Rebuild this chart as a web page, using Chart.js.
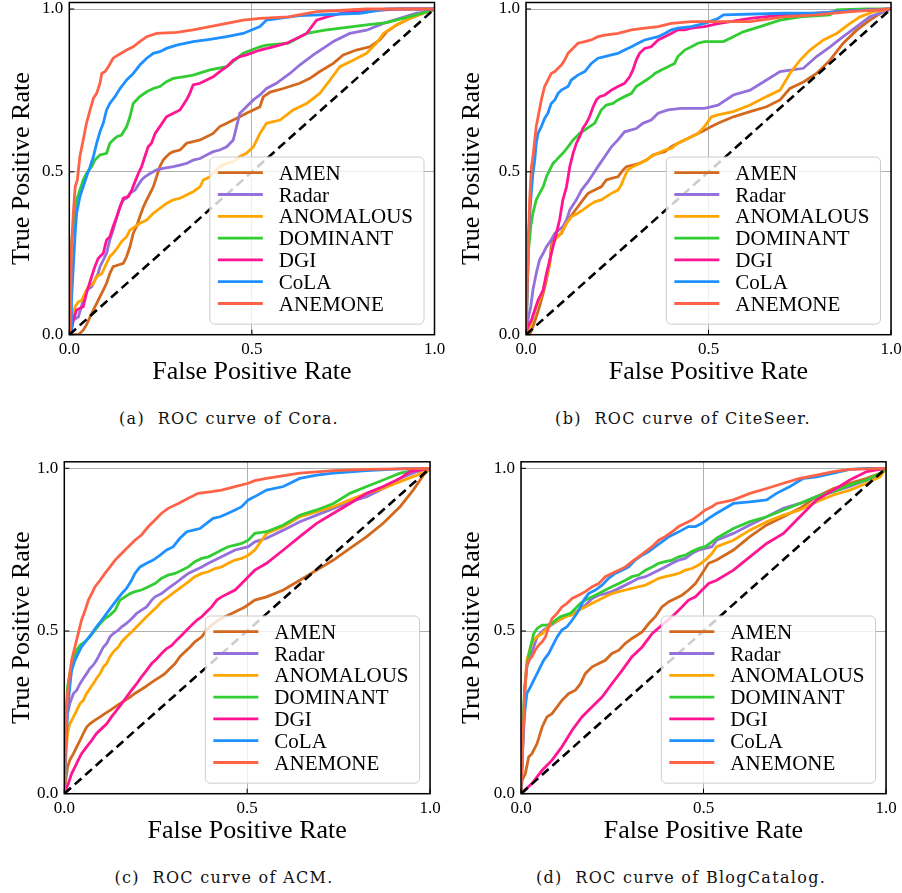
<!DOCTYPE html>
<html>
<head>
<meta charset="utf-8">
<script src="https://cdn.jsdelivr.net/npm/chart.js@4.4.0/dist/chart.umd.min.js"></script>
<style>
  body { margin: 0; background: #fff; }
  #page { position: relative; width: 902px; height: 893px; overflow: hidden; background: #fff; }
  .panel { position: absolute; }
  .caption { position: absolute; font-family: "DejaVu Serif", serif; font-size: 16px; letter-spacing: 1.3px;
             line-height: 19px; white-space: pre; transform: translateX(-50%); color: #111; }
</style>
</head>
<body>
<div id="page">
  <div class="panel" id="boxA" style="left:0;top:0;width:450px;height:388px"><canvas id="rocA"></canvas></div>
  <div class="panel" id="boxB" style="left:450px;top:0;width:452px;height:388px"><canvas id="rocB"></canvas></div>
  <div class="panel" id="boxC" style="left:0;top:459px;width:450px;height:388px"><canvas id="rocC"></canvas></div>
  <div class="panel" id="boxD" style="left:450px;top:459px;width:452px;height:388px"><canvas id="rocD"></canvas></div>
  <div class="caption" style="left:229px;top:409px">(a)  ROC curve of Cora.</div>
  <div class="caption" style="left:683px;top:409px">(b)  ROC curve of CiteSeer.</div>
  <div class="caption" style="left:224px;top:868px">(c)  ROC curve of ACM.</div>
  <div class="caption" style="left:681px;top:868px">(d)  ROC curve of BlogCatalog.</div>
</div>
<script>
// methods in legend order
const methods = ['AMEN', 'Radar', 'ANOMALOUS', 'DOMINANT', 'DGI', 'CoLA', 'ANEMONE'];
const methodColors = ['#D2691E', '#9370DB', '#FFA500', '#32CD32', '#FF1493', '#1E90FF', '#FF6347'];
const tickValues = [0, 0.5, 1.0];
const diagonal = [[0, 0], [1, 1]];

// (a) Cora  -- [FPR, TPR]
const coraAMEN = [[0,0],[0.025,0],[0.038,0.014],[0.047,0.03],[0.057,0.055],[0.066,0.076],[0.075,0.096],[0.084,0.117],[0.093,0.137],[0.102,0.158],[0.111,0.188],[0.12,0.209],[0.134,0.214],[0.148,0.219],[0.157,0.24],[0.166,0.27],[0.175,0.311],[0.184,0.332],[0.193,0.362],[0.203,0.393],[0.212,0.414],[0.221,0.434],[0.23,0.454],[0.239,0.485],[0.248,0.516],[0.257,0.536],[0.266,0.547],[0.276,0.557],[0.285,0.562],[0.303,0.567],[0.312,0.577],[0.321,0.588],[0.339,0.593],[0.358,0.598],[0.376,0.608],[0.394,0.618],[0.412,0.639],[0.431,0.649],[0.449,0.659],[0.467,0.669],[0.485,0.68],[0.504,0.69],[0.522,0.7],[0.531,0.73],[0.55,0.745],[0.586,0.756],[0.631,0.772],[0.659,0.787],[0.686,0.808],[0.723,0.833],[0.75,0.859],[0.786,0.874],[0.823,0.884],[0.85,0.905],[0.869,0.93],[0.896,0.951],[0.932,0.971],[0.969,0.987],[1,1]];
const coraRadar = [[0,0],[0.011,0.045],[0.025,0.055],[0.038,0.106],[0.047,0.137],[0.061,0.147],[0.07,0.168],[0.079,0.188],[0.084,0.209],[0.093,0.229],[0.102,0.25],[0.111,0.291],[0.12,0.321],[0.13,0.362],[0.139,0.393],[0.148,0.414],[0.157,0.419],[0.166,0.434],[0.18,0.444],[0.189,0.46],[0.198,0.475],[0.207,0.485],[0.221,0.495],[0.239,0.506],[0.257,0.511],[0.285,0.516],[0.303,0.521],[0.321,0.526],[0.339,0.536],[0.358,0.541],[0.376,0.552],[0.394,0.562],[0.412,0.567],[0.431,0.577],[0.449,0.598],[0.458,0.639],[0.467,0.68],[0.485,0.7],[0.504,0.721],[0.522,0.736],[0.54,0.756],[0.567,0.772],[0.604,0.802],[0.631,0.828],[0.668,0.859],[0.695,0.879],[0.723,0.9],[0.768,0.925],[0.814,0.935],[0.86,0.956],[0.905,0.971],[0.951,0.987],[0.987,0.992],[1,1]];
const coraANOMALOUS = [[0,0],[0.005,0.025],[0.011,0.066],[0.016,0.086],[0.025,0.101],[0.034,0.106],[0.043,0.127],[0.052,0.147],[0.066,0.158],[0.075,0.178],[0.089,0.188],[0.102,0.219],[0.111,0.24],[0.12,0.25],[0.134,0.27],[0.143,0.286],[0.157,0.301],[0.166,0.321],[0.18,0.332],[0.193,0.342],[0.212,0.352],[0.23,0.373],[0.248,0.388],[0.266,0.403],[0.285,0.414],[0.303,0.419],[0.321,0.429],[0.339,0.439],[0.358,0.454],[0.367,0.475],[0.385,0.485],[0.412,0.516],[0.431,0.526],[0.449,0.531],[0.467,0.547],[0.485,0.557],[0.504,0.577],[0.522,0.618],[0.54,0.649],[0.577,0.659],[0.613,0.69],[0.65,0.71],[0.686,0.741],[0.714,0.782],[0.741,0.823],[0.777,0.843],[0.814,0.864],[0.841,0.895],[0.86,0.925],[0.896,0.951],[0.932,0.971],[0.969,0.987],[1,1]];
const coraDOMINANT = [[0,0],[0.005,0.27],[0.009,0.311],[0.016,0.373],[0.02,0.414],[0.029,0.444],[0.038,0.475],[0.047,0.495],[0.061,0.516],[0.07,0.536],[0.084,0.552],[0.102,0.557],[0.111,0.588],[0.12,0.598],[0.13,0.608],[0.143,0.613],[0.157,0.639],[0.166,0.669],[0.175,0.71],[0.193,0.731],[0.212,0.746],[0.23,0.756],[0.248,0.762],[0.266,0.777],[0.285,0.787],[0.312,0.792],[0.339,0.797],[0.385,0.813],[0.431,0.823],[0.476,0.864],[0.522,0.884],[0.54,0.889],[0.6,0.895],[0.65,0.925],[0.7,0.935],[0.814,0.951],[0.869,0.958],[0.942,0.98],[0.996,0.997],[1,1]];
const coraDGI = [[0,0],[0.006,0.014],[0.011,0.045],[0.02,0.076],[0.038,0.086],[0.047,0.127],[0.061,0.178],[0.07,0.209],[0.079,0.234],[0.093,0.25],[0.102,0.291],[0.111,0.301],[0.12,0.332],[0.13,0.362],[0.139,0.393],[0.148,0.419],[0.162,0.424],[0.171,0.444],[0.18,0.47],[0.189,0.495],[0.198,0.516],[0.207,0.547],[0.216,0.577],[0.225,0.588],[0.235,0.618],[0.248,0.639],[0.266,0.669],[0.285,0.68],[0.303,0.69],[0.321,0.721],[0.33,0.741],[0.339,0.767],[0.358,0.772],[0.376,0.782],[0.394,0.792],[0.412,0.808],[0.431,0.823],[0.449,0.843],[0.467,0.854],[0.485,0.859],[0.522,0.874],[0.558,0.884],[0.595,0.895],[0.65,0.925],[0.677,0.966],[0.714,0.979],[0.768,0.992],[0.905,1],[1,1]];
const coraCoLA = [[0,0],[0.005,0],[0.006,0.106],[0.011,0.209],[0.016,0.311],[0.02,0.373],[0.029,0.424],[0.038,0.454],[0.047,0.485],[0.057,0.516],[0.066,0.547],[0.075,0.588],[0.084,0.623],[0.093,0.649],[0.102,0.69],[0.111,0.71],[0.125,0.731],[0.139,0.756],[0.157,0.782],[0.175,0.802],[0.193,0.828],[0.212,0.849],[0.23,0.864],[0.248,0.869],[0.266,0.879],[0.294,0.889],[0.339,0.9],[0.385,0.907],[0.431,0.915],[0.476,0.925],[0.522,0.946],[0.54,0.966],[0.63,0.98],[0.796,0.987],[0.869,1],[1,1]];
const coraANEMONE = [[0,0],[0.002,0],[0.006,0.27],[0.011,0.373],[0.016,0.454],[0.022,0.475],[0.029,0.547],[0.038,0.598],[0.047,0.649],[0.057,0.69],[0.066,0.726],[0.075,0.741],[0.084,0.772],[0.089,0.802],[0.098,0.808],[0.107,0.823],[0.12,0.849],[0.134,0.859],[0.157,0.874],[0.175,0.884],[0.193,0.9],[0.212,0.915],[0.239,0.925],[0.294,0.928],[0.339,0.936],[0.385,0.946],[0.431,0.956],[0.476,0.966],[0.522,0.971],[0.6,0.976],[0.677,0.992],[0.814,1],[1,1]];

// (b) CiteSeer
const citeAMEN = [[0,0],[0.01,0],[0.019,0.025],[0.028,0.055],[0.037,0.086],[0.047,0.127],[0.056,0.168],[0.065,0.219],[0.069,0.27],[0.074,0.291],[0.083,0.301],[0.097,0.311],[0.106,0.332],[0.115,0.352],[0.129,0.373],[0.142,0.393],[0.156,0.414],[0.17,0.434],[0.188,0.444],[0.206,0.454],[0.22,0.475],[0.234,0.48],[0.252,0.485],[0.266,0.506],[0.275,0.516],[0.293,0.521],[0.311,0.526],[0.33,0.536],[0.348,0.552],[0.362,0.557],[0.38,0.562],[0.398,0.577],[0.416,0.588],[0.435,0.598],[0.453,0.608],[0.471,0.618],[0.489,0.628],[0.508,0.639],[0.526,0.649],[0.568,0.669],[0.614,0.685],[0.659,0.7],[0.696,0.721],[0.723,0.756],[0.76,0.776],[0.796,0.802],[0.833,0.843],[0.869,0.895],[0.906,0.935],[0.942,0.966],[0.979,0.992],[1,1]];
const citeRadar = [[0,0],[0.005,0.045],[0.013,0.086],[0.019,0.137],[0.028,0.188],[0.037,0.229],[0.047,0.25],[0.056,0.27],[0.069,0.291],[0.079,0.311],[0.101,0.332],[0.111,0.352],[0.12,0.383],[0.138,0.414],[0.152,0.444],[0.17,0.47],[0.179,0.485],[0.197,0.516],[0.216,0.547],[0.234,0.577],[0.252,0.598],[0.27,0.623],[0.302,0.633],[0.32,0.649],[0.343,0.659],[0.362,0.68],[0.389,0.69],[0.425,0.695],[0.462,0.695],[0.489,0.695],[0.526,0.705],[0.568,0.736],[0.614,0.751],[0.659,0.782],[0.696,0.808],[0.76,0.818],[0.796,0.854],[0.833,0.884],[0.869,0.915],[0.906,0.946],[0.942,0.976],[1,1]];
const citeANOMALOUS = [[0,0],[0.01,0.014],[0.019,0.055],[0.028,0.086],[0.037,0.106],[0.047,0.137],[0.056,0.178],[0.065,0.219],[0.069,0.25],[0.074,0.28],[0.083,0.296],[0.092,0.306],[0.101,0.321],[0.111,0.342],[0.124,0.362],[0.142,0.373],[0.156,0.383],[0.174,0.398],[0.188,0.408],[0.206,0.414],[0.22,0.424],[0.234,0.434],[0.252,0.444],[0.261,0.46],[0.27,0.485],[0.279,0.506],[0.293,0.516],[0.311,0.526],[0.33,0.536],[0.343,0.547],[0.362,0.557],[0.38,0.567],[0.398,0.572],[0.416,0.588],[0.435,0.598],[0.453,0.608],[0.471,0.618],[0.489,0.639],[0.508,0.669],[0.526,0.675],[0.568,0.685],[0.614,0.705],[0.659,0.731],[0.696,0.751],[0.723,0.802],[0.751,0.843],[0.778,0.874],[0.815,0.905],[0.851,0.925],[0.888,0.956],[0.915,0.976],[0.952,0.992],[1,1]];
const citeDOMINANT = [[0,0],[0.004,0.158],[0.007,0.26],[0.013,0.332],[0.019,0.373],[0.028,0.414],[0.037,0.434],[0.047,0.454],[0.056,0.485],[0.065,0.506],[0.074,0.526],[0.083,0.536],[0.092,0.547],[0.101,0.557],[0.115,0.577],[0.129,0.598],[0.138,0.608],[0.147,0.618],[0.161,0.628],[0.174,0.639],[0.188,0.649],[0.197,0.669],[0.206,0.69],[0.22,0.705],[0.238,0.71],[0.252,0.721],[0.27,0.731],[0.289,0.741],[0.302,0.762],[0.316,0.772],[0.33,0.782],[0.343,0.792],[0.353,0.802],[0.371,0.813],[0.389,0.823],[0.407,0.833],[0.416,0.854],[0.435,0.874],[0.453,0.884],[0.471,0.895],[0.489,0.9],[0.541,0.9],[0.568,0.915],[0.595,0.93],[0.641,0.946],[0.696,0.966],[0.751,0.976],[0.833,0.982],[0.851,0.997],[0.933,1],[1,1]];
const citeDGI = [[0,0],[0.005,0.025],[0.015,0.045],[0.024,0.076],[0.033,0.106],[0.047,0.137],[0.056,0.188],[0.065,0.229],[0.074,0.27],[0.083,0.311],[0.092,0.352],[0.101,0.414],[0.111,0.454],[0.12,0.516],[0.129,0.557],[0.138,0.588],[0.147,0.608],[0.156,0.634],[0.165,0.649],[0.174,0.669],[0.184,0.7],[0.193,0.721],[0.202,0.731],[0.216,0.736],[0.234,0.751],[0.252,0.762],[0.27,0.772],[0.284,0.792],[0.293,0.813],[0.302,0.843],[0.311,0.864],[0.325,0.879],[0.343,0.884],[0.362,0.905],[0.38,0.915],[0.398,0.925],[0.416,0.936],[0.435,0.936],[0.453,0.941],[0.489,0.946],[0.526,0.955],[0.614,0.971],[0.705,0.982],[0.796,0.987],[0.888,0.994],[1,1]];
const citeCoLA = [[0,0],[0.004,0.158],[0.007,0.311],[0.013,0.414],[0.019,0.495],[0.024,0.536],[0.028,0.588],[0.033,0.618],[0.042,0.639],[0.051,0.664],[0.06,0.68],[0.069,0.71],[0.079,0.721],[0.088,0.741],[0.097,0.751],[0.115,0.762],[0.124,0.782],[0.142,0.797],[0.161,0.808],[0.179,0.833],[0.197,0.849],[0.216,0.854],[0.234,0.859],[0.252,0.864],[0.27,0.874],[0.289,0.884],[0.307,0.895],[0.325,0.905],[0.343,0.91],[0.362,0.915],[0.38,0.925],[0.398,0.936],[0.416,0.941],[0.453,0.946],[0.489,0.956],[0.526,0.971],[0.541,0.982],[0.705,0.987],[0.796,0.987],[0.888,0.994],[1,1]];
const citeANEMONE = [[0,0],[0.005,0.209],[0.01,0.414],[0.015,0.516],[0.019,0.547],[0.024,0.598],[0.028,0.639],[0.035,0.68],[0.042,0.721],[0.051,0.762],[0.06,0.782],[0.069,0.802],[0.079,0.808],[0.088,0.818],[0.097,0.828],[0.106,0.843],[0.115,0.864],[0.124,0.874],[0.133,0.884],[0.142,0.895],[0.161,0.9],[0.179,0.905],[0.197,0.915],[0.216,0.92],[0.252,0.925],[0.289,0.936],[0.325,0.941],[0.362,0.946],[0.398,0.956],[0.453,0.961],[0.526,0.961],[0.614,0.961],[0.705,0.976],[0.796,0.982],[0.888,0.992],[1,1]];

// (c) ACM
const acmAMEN = [[0,0],[0.005,0.051],[0.009,0.082],[0.015,0.103],[0.025,0.123],[0.034,0.144],[0.043,0.164],[0.052,0.185],[0.061,0.205],[0.07,0.215],[0.084,0.226],[0.098,0.236],[0.111,0.246],[0.125,0.256],[0.139,0.267],[0.152,0.277],[0.166,0.287],[0.18,0.297],[0.193,0.308],[0.207,0.318],[0.221,0.328],[0.234,0.338],[0.248,0.349],[0.262,0.359],[0.275,0.369],[0.289,0.385],[0.303,0.4],[0.316,0.421],[0.33,0.436],[0.344,0.451],[0.357,0.467],[0.376,0.482],[0.389,0.503],[0.403,0.518],[0.421,0.533],[0.439,0.544],[0.458,0.554],[0.476,0.564],[0.494,0.574],[0.521,0.595],[0.553,0.605],[0.599,0.626],[0.644,0.656],[0.69,0.687],[0.736,0.718],[0.781,0.754],[0.827,0.79],[0.872,0.831],[0.918,0.882],[0.954,0.933],[0.982,0.979],[1,1]];
const acmRadar = [[0,0],[0.005,0.205],[0.009,0.246],[0.015,0.277],[0.025,0.308],[0.034,0.318],[0.043,0.338],[0.052,0.354],[0.061,0.369],[0.07,0.385],[0.079,0.395],[0.088,0.41],[0.098,0.431],[0.107,0.451],[0.116,0.462],[0.125,0.482],[0.134,0.492],[0.148,0.503],[0.157,0.513],[0.17,0.523],[0.184,0.538],[0.198,0.554],[0.211,0.564],[0.225,0.574],[0.239,0.595],[0.248,0.605],[0.266,0.615],[0.284,0.631],[0.303,0.646],[0.321,0.662],[0.339,0.677],[0.357,0.687],[0.376,0.697],[0.394,0.708],[0.412,0.718],[0.43,0.728],[0.448,0.738],[0.467,0.749],[0.485,0.754],[0.503,0.759],[0.521,0.774],[0.553,0.785],[0.599,0.81],[0.644,0.836],[0.69,0.856],[0.736,0.877],[0.781,0.897],[0.827,0.913],[0.872,0.938],[0.918,0.969],[0.964,0.99],[1,1]];
const acmANOMALOUS = [[0,0],[0.005,0.133],[0.009,0.185],[0.015,0.215],[0.025,0.236],[0.034,0.256],[0.043,0.277],[0.052,0.287],[0.061,0.308],[0.07,0.323],[0.079,0.338],[0.088,0.354],[0.098,0.369],[0.107,0.39],[0.116,0.4],[0.125,0.421],[0.134,0.436],[0.148,0.451],[0.157,0.467],[0.17,0.482],[0.184,0.497],[0.198,0.513],[0.211,0.528],[0.225,0.544],[0.239,0.559],[0.253,0.574],[0.266,0.59],[0.284,0.605],[0.303,0.621],[0.321,0.636],[0.339,0.651],[0.357,0.667],[0.376,0.677],[0.394,0.682],[0.412,0.692],[0.43,0.697],[0.448,0.708],[0.467,0.718],[0.485,0.723],[0.503,0.733],[0.521,0.749],[0.553,0.8],[0.599,0.821],[0.644,0.851],[0.69,0.867],[0.736,0.882],[0.781,0.903],[0.827,0.923],[0.872,0.938],[0.918,0.959],[0.964,0.979],[1,1]];
const acmDOMINANT = [[0,0],[0.005,0.256],[0.009,0.328],[0.015,0.369],[0.025,0.41],[0.034,0.441],[0.043,0.456],[0.057,0.467],[0.07,0.482],[0.084,0.503],[0.098,0.523],[0.111,0.538],[0.125,0.549],[0.139,0.564],[0.152,0.595],[0.166,0.605],[0.18,0.615],[0.193,0.621],[0.211,0.626],[0.23,0.636],[0.248,0.646],[0.266,0.662],[0.284,0.672],[0.303,0.677],[0.321,0.687],[0.339,0.697],[0.357,0.713],[0.376,0.723],[0.394,0.728],[0.412,0.738],[0.43,0.749],[0.448,0.759],[0.467,0.764],[0.485,0.769],[0.503,0.779],[0.521,0.8],[0.553,0.805],[0.599,0.826],[0.644,0.856],[0.69,0.872],[0.736,0.892],[0.781,0.923],[0.827,0.944],[0.872,0.964],[0.918,0.985],[0.964,0.995],[1,1]];
const acmDGI = [[0,0],[0.011,0.031],[0.02,0.062],[0.029,0.082],[0.038,0.103],[0.047,0.123],[0.061,0.144],[0.075,0.164],[0.088,0.185],[0.102,0.2],[0.116,0.215],[0.129,0.236],[0.143,0.256],[0.157,0.277],[0.17,0.297],[0.184,0.318],[0.198,0.338],[0.211,0.359],[0.225,0.379],[0.239,0.4],[0.253,0.415],[0.266,0.431],[0.28,0.446],[0.294,0.456],[0.307,0.472],[0.321,0.487],[0.335,0.503],[0.348,0.518],[0.362,0.533],[0.376,0.544],[0.389,0.559],[0.403,0.574],[0.417,0.595],[0.43,0.605],[0.448,0.615],[0.467,0.626],[0.485,0.646],[0.503,0.667],[0.521,0.687],[0.553,0.708],[0.599,0.749],[0.644,0.79],[0.69,0.831],[0.736,0.862],[0.781,0.892],[0.827,0.923],[0.872,0.944],[0.918,0.969],[0.945,0.99],[1,1]];
const acmCoLA = [[0,0],[0.005,0.154],[0.009,0.256],[0.015,0.328],[0.02,0.379],[0.029,0.41],[0.038,0.431],[0.047,0.451],[0.061,0.472],[0.075,0.492],[0.088,0.513],[0.102,0.533],[0.116,0.554],[0.129,0.574],[0.143,0.595],[0.157,0.615],[0.17,0.631],[0.184,0.656],[0.193,0.677],[0.207,0.697],[0.225,0.708],[0.243,0.718],[0.262,0.733],[0.28,0.749],[0.298,0.759],[0.316,0.785],[0.335,0.805],[0.353,0.81],[0.371,0.815],[0.389,0.831],[0.407,0.846],[0.426,0.851],[0.448,0.862],[0.467,0.872],[0.485,0.882],[0.503,0.903],[0.521,0.913],[0.553,0.933],[0.599,0.944],[0.644,0.969],[0.69,0.979],[0.736,0.985],[0.827,0.993],[0.918,0.998],[1,1]];
const acmANEMONE = [[0,0],[0.005,0.205],[0.009,0.308],[0.015,0.369],[0.02,0.41],[0.029,0.451],[0.038,0.492],[0.047,0.533],[0.057,0.564],[0.066,0.595],[0.075,0.615],[0.084,0.636],[0.098,0.656],[0.111,0.677],[0.125,0.697],[0.139,0.718],[0.152,0.733],[0.166,0.749],[0.18,0.764],[0.193,0.779],[0.211,0.795],[0.23,0.821],[0.248,0.841],[0.266,0.862],[0.284,0.877],[0.312,0.892],[0.339,0.908],[0.366,0.923],[0.403,0.928],[0.43,0.933],[0.467,0.944],[0.503,0.954],[0.521,0.962],[0.553,0.969],[0.644,0.985],[0.736,0.993],[0.827,0.997],[1,1]];

// (d) BlogCatalog
const blogAMEN = [[0,0],[0.003,0.041],[0.012,0.062],[0.021,0.113],[0.03,0.123],[0.044,0.154],[0.058,0.205],[0.071,0.236],[0.085,0.246],[0.099,0.267],[0.112,0.287],[0.131,0.308],[0.149,0.318],[0.163,0.338],[0.176,0.369],[0.195,0.39],[0.213,0.4],[0.231,0.41],[0.249,0.431],[0.268,0.441],[0.286,0.462],[0.304,0.477],[0.332,0.497],[0.35,0.523],[0.368,0.544],[0.386,0.574],[0.405,0.59],[0.423,0.6],[0.441,0.61],[0.459,0.626],[0.478,0.646],[0.496,0.677],[0.514,0.708],[0.536,0.718],[0.582,0.749],[0.627,0.79],[0.673,0.826],[0.719,0.851],[0.764,0.877],[0.81,0.913],[0.856,0.938],[0.901,0.954],[0.947,0.969],[0.984,0.985],[1,1]];
const blogRadar = [[0,0],[0.005,0.154],[0.01,0.308],[0.016,0.39],[0.026,0.421],[0.035,0.451],[0.044,0.482],[0.053,0.492],[0.062,0.503],[0.076,0.513],[0.089,0.523],[0.103,0.533],[0.121,0.544],[0.14,0.554],[0.158,0.564],[0.176,0.579],[0.195,0.6],[0.213,0.61],[0.231,0.615],[0.249,0.621],[0.268,0.631],[0.286,0.641],[0.304,0.651],[0.322,0.662],[0.341,0.667],[0.359,0.677],[0.377,0.687],[0.395,0.697],[0.414,0.708],[0.432,0.718],[0.45,0.723],[0.468,0.738],[0.487,0.749],[0.505,0.754],[0.523,0.759],[0.536,0.779],[0.582,0.8],[0.627,0.826],[0.673,0.851],[0.719,0.877],[0.764,0.892],[0.81,0.913],[0.856,0.928],[0.901,0.944],[0.947,0.964],[0.984,0.979],[1,1]];
const blogANOMALOUS = [[0,0],[0.005,0.154],[0.01,0.308],[0.016,0.41],[0.026,0.451],[0.035,0.472],[0.044,0.482],[0.058,0.492],[0.071,0.508],[0.085,0.523],[0.103,0.533],[0.121,0.544],[0.14,0.549],[0.158,0.564],[0.176,0.574],[0.195,0.585],[0.213,0.595],[0.231,0.605],[0.249,0.615],[0.268,0.621],[0.286,0.626],[0.304,0.631],[0.322,0.636],[0.341,0.641],[0.359,0.651],[0.377,0.662],[0.395,0.667],[0.414,0.672],[0.432,0.677],[0.45,0.687],[0.468,0.692],[0.487,0.703],[0.505,0.718],[0.523,0.738],[0.536,0.759],[0.582,0.779],[0.627,0.81],[0.673,0.836],[0.719,0.856],[0.764,0.872],[0.81,0.897],[0.856,0.918],[0.901,0.933],[0.947,0.954],[0.984,0.974],[1,1]];
const blogDOMINANT = [[0,0],[0.005,0.205],[0.01,0.328],[0.016,0.39],[0.026,0.451],[0.035,0.492],[0.044,0.508],[0.058,0.518],[0.071,0.518],[0.085,0.523],[0.094,0.533],[0.108,0.544],[0.121,0.549],[0.135,0.554],[0.149,0.569],[0.163,0.585],[0.176,0.595],[0.195,0.605],[0.213,0.615],[0.231,0.626],[0.249,0.636],[0.268,0.646],[0.286,0.656],[0.304,0.667],[0.322,0.672],[0.341,0.687],[0.359,0.697],[0.377,0.708],[0.395,0.713],[0.414,0.718],[0.432,0.728],[0.45,0.733],[0.468,0.744],[0.487,0.754],[0.505,0.759],[0.523,0.774],[0.536,0.785],[0.582,0.815],[0.627,0.836],[0.673,0.851],[0.719,0.872],[0.764,0.892],[0.81,0.913],[0.856,0.928],[0.901,0.949],[0.947,0.964],[0.984,0.985],[1,1]];
const blogDGI = [[0,0],[0.03,0.031],[0.058,0.072],[0.085,0.103],[0.112,0.144],[0.14,0.195],[0.167,0.236],[0.195,0.267],[0.222,0.297],[0.249,0.338],[0.277,0.379],[0.304,0.421],[0.332,0.451],[0.359,0.492],[0.386,0.518],[0.414,0.544],[0.441,0.574],[0.459,0.595],[0.478,0.605],[0.496,0.626],[0.514,0.646],[0.536,0.656],[0.582,0.687],[0.627,0.728],[0.673,0.769],[0.719,0.8],[0.764,0.851],[0.81,0.903],[0.856,0.933],[0.901,0.964],[0.947,0.99],[1,1]];
const blogCoLA = [[0,0],[0.005,0.154],[0.01,0.246],[0.016,0.308],[0.026,0.328],[0.035,0.349],[0.044,0.369],[0.053,0.39],[0.062,0.41],[0.076,0.431],[0.085,0.451],[0.099,0.482],[0.112,0.503],[0.126,0.513],[0.14,0.533],[0.153,0.554],[0.163,0.574],[0.172,0.595],[0.185,0.615],[0.204,0.626],[0.222,0.641],[0.24,0.662],[0.258,0.677],[0.277,0.687],[0.295,0.697],[0.313,0.718],[0.332,0.733],[0.35,0.744],[0.368,0.759],[0.386,0.774],[0.405,0.79],[0.423,0.8],[0.441,0.81],[0.459,0.821],[0.478,0.821],[0.496,0.831],[0.514,0.846],[0.536,0.862],[0.582,0.892],[0.627,0.897],[0.673,0.903],[0.7,0.923],[0.737,0.944],[0.774,0.969],[0.81,0.974],[0.856,0.985],[0.901,0.997],[0.947,1],[1,1]];
const blogANEMONE = [[0,0],[0.005,0.154],[0.01,0.308],[0.015,0.39],[0.021,0.41],[0.03,0.421],[0.039,0.441],[0.048,0.456],[0.058,0.467],[0.067,0.482],[0.076,0.513],[0.085,0.538],[0.099,0.554],[0.112,0.574],[0.126,0.585],[0.14,0.6],[0.158,0.61],[0.176,0.621],[0.195,0.636],[0.213,0.646],[0.231,0.667],[0.249,0.677],[0.268,0.687],[0.286,0.697],[0.304,0.713],[0.322,0.728],[0.341,0.744],[0.359,0.759],[0.377,0.779],[0.395,0.79],[0.414,0.805],[0.432,0.821],[0.45,0.831],[0.468,0.841],[0.487,0.856],[0.505,0.872],[0.523,0.882],[0.536,0.892],[0.582,0.903],[0.627,0.923],[0.673,0.938],[0.719,0.954],[0.764,0.969],[0.81,0.979],[0.856,0.99],[0.901,0.997],[1,1]];

const panels = [
  { id: 'rocA', series: [coraAMEN, coraRadar, coraANOMALOUS, coraDOMINANT, coraDGI, coraCoLA, coraANEMONE], axisW: 69.3, padTop: 2.5, padRight: 15.5 },
  { id: 'rocB', series: [citeAMEN, citeRadar, citeANOMALOUS, citeDOMINANT, citeDGI, citeCoLA, citeANEMONE], axisW: 76, padTop: 2.5, padRight: 11 },
  { id: 'rocC', series: [acmAMEN, acmRadar, acmANOMALOUS, acmDOMINANT, acmDGI, acmCoLA, acmANEMONE], axisW: 64.3, padTop: 2.8, padRight: 20 },
  { id: 'rocD', series: [blogAMEN, blogRadar, blogANOMALOUS, blogDOMINANT, blogDGI, blogCoLA, blogANEMONE], axisW: 71, padTop: 2.8, padRight: 16 }
];

const serif = '"Liberation Serif", serif';

function toPoints(arr) {
  return arr.map(p => ({ x: p[0], y: p[1] }));
}

// black frame + inward ticks (matplotlib look)
const framePlugin = {
  id: 'frame',
  afterDatasetsDraw(chart) {
    const { ctx, chartArea: a, scales } = chart;
    ctx.save();
    ctx.strokeStyle = '#000';
    ctx.lineWidth = 1;
    ctx.setLineDash([]);
    tickValues.forEach(v => {
      const px = scales.x.getPixelForValue(v);
      const py = scales.y.getPixelForValue(v);
      ctx.beginPath();
      ctx.moveTo(px, a.bottom); ctx.lineTo(px, a.bottom - 5);
      ctx.moveTo(a.left, py); ctx.lineTo(a.left + 5, py);
      ctx.stroke();
    });
    ctx.lineWidth = 1.5;
    ctx.strokeRect(a.left, a.top, a.right - a.left, a.bottom - a.top);
    ctx.restore();
  }
};

// legend box in the lower right corner of the plot area
const insideLegend = {
  id: 'insideLegend',
  afterDraw(chart) {
    const { ctx, chartArea: a } = chart;
    const items = chart.data.datasets.filter(d => d.label);
    ctx.save();
    ctx.font = '21px ' + serif;
    let maxW = 0;
    items.forEach(d => { maxW = Math.max(maxW, ctx.measureText(d.label).width); });
    const w = 8 + 45 + 16 + maxW + 11;
    const h = 15.7 + 21.8 * (items.length - 1) + 20.7;
    const x0 = a.right - 10.5 - w;
    const y0 = a.bottom - 10.5 - h;
    ctx.beginPath();
    ctx.roundRect(x0, y0, w, h, 5);
    ctx.fillStyle = 'rgba(255,255,255,0.8)';
    ctx.fill();
    ctx.strokeStyle = '#cccccc';
    ctx.lineWidth = 1;
    ctx.stroke();
    items.forEach((d, i) => {
      const y = y0 + 15.7 + 21.8 * i;
      ctx.strokeStyle = d.borderColor;
      ctx.lineWidth = 2.8;
      ctx.beginPath();
      ctx.moveTo(x0 + 8, y);
      ctx.lineTo(x0 + 53, y);
      ctx.stroke();
      ctx.fillStyle = '#000';
      ctx.textBaseline = 'alphabetic';
      ctx.fillText(d.label, x0 + 69, y + 7);
    });
    ctx.restore();
  }
};

function makeChart(p) {
  const datasets = p.series.map((s, i) => ({
    label: methods[i],
    data: toPoints(s),
    borderColor: methodColors[i],
    borderWidth: 2.8,
    order: methods.length - i
  }));
  datasets.push({
    label: '',
    data: toPoints(diagonal),
    borderColor: '#000',
    borderWidth: 2.6,
    borderDash: [9, 5],
    order: 0
  });

  new Chart(document.getElementById(p.id), {
    type: 'scatter',
    data: { datasets: datasets },
    options: {
      responsive: true,
      maintainAspectRatio: false,
      animation: false,
      showLine: true,
      elements: { point: { radius: 0 }, line: { tension: 0 } },
      layout: { padding: { top: p.padTop, right: p.padRight, left: 0, bottom: 0 } },
      plugins: { legend: { display: false }, tooltip: { enabled: false } },
      scales: {
        x: {
          type: 'linear', min: 0, max: 1,
          afterBuildTicks: s => { s.ticks = tickValues.map(v => ({ value: v })); },
          afterFit: s => { s.height = 53.3; s.paddingLeft = 0; s.paddingRight = 0; },
          grid: { color: '#b0b0b0', lineWidth: 1, drawTicks: false },
          border: { display: false },
          ticks: { color: '#000', padding: 5, maxRotation: 0, font: { family: serif, size: 17 },
                   callback: v => v.toFixed(1) },
          title: { display: true, text: 'False Positive Rate', color: '#000',
                   font: { family: serif, size: 26 }, padding: { top: 0, bottom: 0 } }
        },
        y: {
          type: 'linear', min: 0, max: 1.02,
          afterBuildTicks: s => { s.ticks = tickValues.map(v => ({ value: v })); },
          afterFit: s => { s.width = p.axisW; s.paddingTop = 0; s.paddingBottom = 0; },
          grid: { color: '#b0b0b0', lineWidth: 1, drawTicks: false },
          border: { display: false },
          ticks: { color: '#000', padding: 6, font: { family: serif, size: 17 },
                   callback: v => v.toFixed(1) },
          title: { display: true, text: 'True Positive Rate', color: '#000',
                   font: { family: serif, size: 26 }, padding: { top: 6.4, bottom: 0 } }
        }
      }
    },
    plugins: [framePlugin, insideLegend]
  });
}

panels.forEach(makeChart);
</script>
</body>
</html>
